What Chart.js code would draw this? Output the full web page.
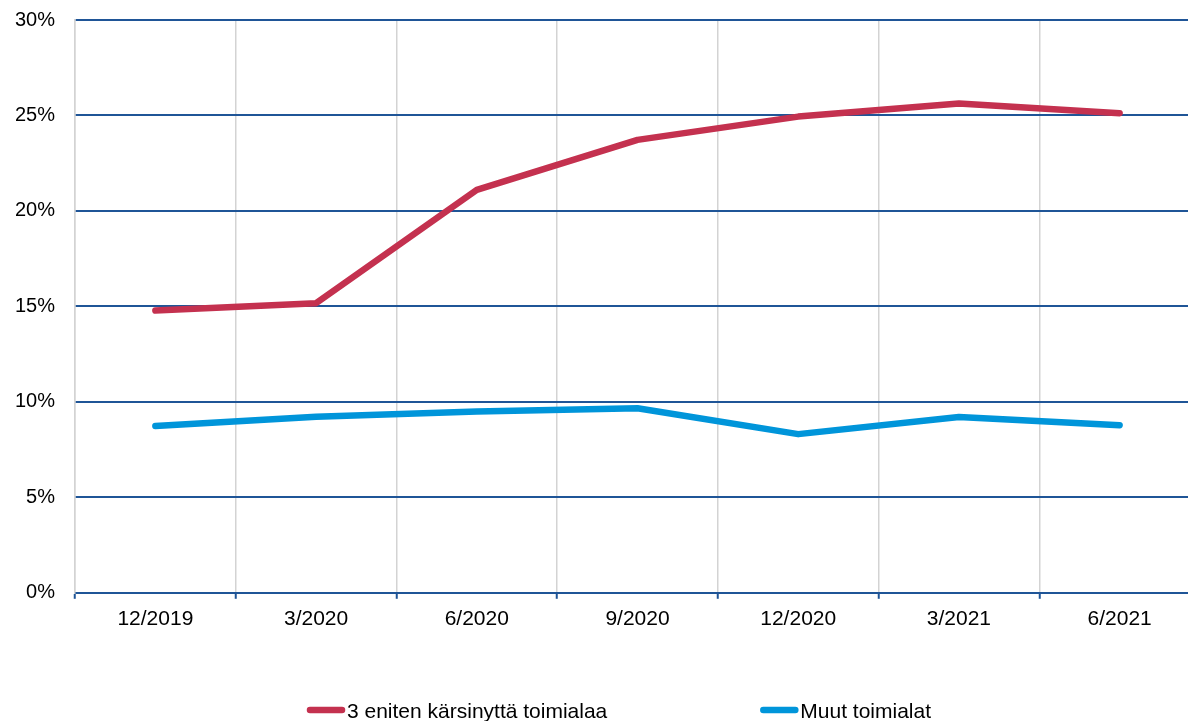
<!DOCTYPE html>
<html>
<head>
<meta charset="utf-8">
<script src="https://cdn.jsdelivr.net/npm/chart.js@4"></script>
<style>
  body { margin: 0; background: #fff; }
  #wrap { width: 1188px; height: 721px; overflow: hidden; }
</style>
</head>
<body>
<div id="wrap">
  <canvas id="myChart" width="1202" height="721"></canvas>
</div>
<script>
'use strict';

let quarters = ['12/2019', '3/2020', '6/2020', '9/2020', '12/2020', '3/2021', '6/2021'];
let hitHardest = [14.78, 15.17, 21.1, 23.72, 24.94, 25.63, 25.12];
let otherSectors = [8.73, 9.22, 9.49, 9.67, 8.31, 9.21, 8.78];
let seriesNames = ['3 eniten kärsinyttä toimialaa', 'Muut toimialat'];
let seriesColors = ['#C4314F', '#0095DA'];

let darkBlue = '#1F5597';
let lightGrey = '#D3D3D3';
let fontFamily = '"Liberation Sans", Arial, sans-serif';

// legend drawn by hand below the plot: short rounded line + label
const lineLegend = {
  id: 'lineLegend',
  afterDraw(chart, args, opts) {
    let ctx = chart.ctx;
    ctx.save();
    ctx.font = opts.fontSize + 'px ' + fontFamily;
    ctx.textBaseline = 'middle';
    ctx.textAlign = 'left';

    let items = chart.data.datasets.map(ds => ({
      text: ds.label,
      color: ds.borderColor,
      width: opts.lineLen + opts.textGap + ctx.measureText(ds.label).width
    }));
    let total = items.reduce((s, it) => s + it.width, 0) + opts.itemGap * (items.length - 1);
    let x = opts.centerX - total / 2;

    for (let i = 0; i < items.length; i++) {
      let it = items[i];
      ctx.strokeStyle = it.color;
      ctx.lineWidth = 6.5;
      ctx.lineCap = 'round';
      ctx.beginPath();
      ctx.moveTo(x + 3, opts.y - 2);
      ctx.lineTo(x + opts.lineLen - 3, opts.y - 2);
      ctx.stroke();

      ctx.fillStyle = '#000';
      ctx.fillText(it.text, x + opts.lineLen + opts.textGap, opts.y);
      x += it.width + opts.itemGap;
    }
    ctx.restore();
  }
};

let ctx = document.getElementById('myChart').getContext('2d');

let myChart = new Chart(ctx, {
  type: 'line',
  data: {
    labels: quarters,
    datasets: [{
      label: seriesNames[0],
      data: hitHardest,
      borderColor: seriesColors[0],
      backgroundColor: seriesColors[0]
    },
    {
      label: seriesNames[1],
      data: otherSectors,
      borderColor: seriesColors[1],
      backgroundColor: seriesColors[1]
    }]
  },
  options: {
    responsive: false,
    animation: false,
    events: [],
    elements: {
      line: {
        borderWidth: 6.5,
        tension: 0,
        borderCapStyle: 'round',
        borderJoinStyle: 'round'
      },
      point: { radius: 0 }
    },
    layout: {
      padding: { top: 20, right: 2, left: 0, bottom: 81 }
    },
    scales: {
      x: {
        offset: true,
        grid: {
          offset: true,
          color: lightGrey,
          lineWidth: 1.5,
          tickColor: darkBlue,
          tickLength: 6,
          tickWidth: 2
        },
        border: { color: darkBlue, width: 2 },
        ticks: {
          color: '#000',
          padding: 8,
          maxRotation: 0,
          font: { family: fontFamily, size: 21 }
        }
      },
      y: {
        min: 0,
        max: 30,
        afterFit: function(scale) {
          // fixed axis width, and no extra room for the end labels
          scale.width = 75;
          scale.paddingTop = 0;
          scale.paddingBottom = 0;
        },
        grid: {
          color: darkBlue,
          lineWidth: 2,
          drawTicks: false
        },
        border: { color: lightGrey, width: 1.5 },
        ticks: {
          stepSize: 5,
          color: '#000',
          padding: 20,
          font: { family: fontFamily, size: 20 },
          callback: function(value) {
            return value + '%';
          }
        }
      }
    },
    plugins: {
      legend: { display: false },
      tooltip: { enabled: false },
      lineLegend: {
        centerX: 619,
        y: 712,
        fontSize: 21,
        lineLen: 38,
        textGap: 2,
        itemGap: 153
      }
    }
  },
  plugins: [lineLegend]
});
</script>
</body>
</html>
